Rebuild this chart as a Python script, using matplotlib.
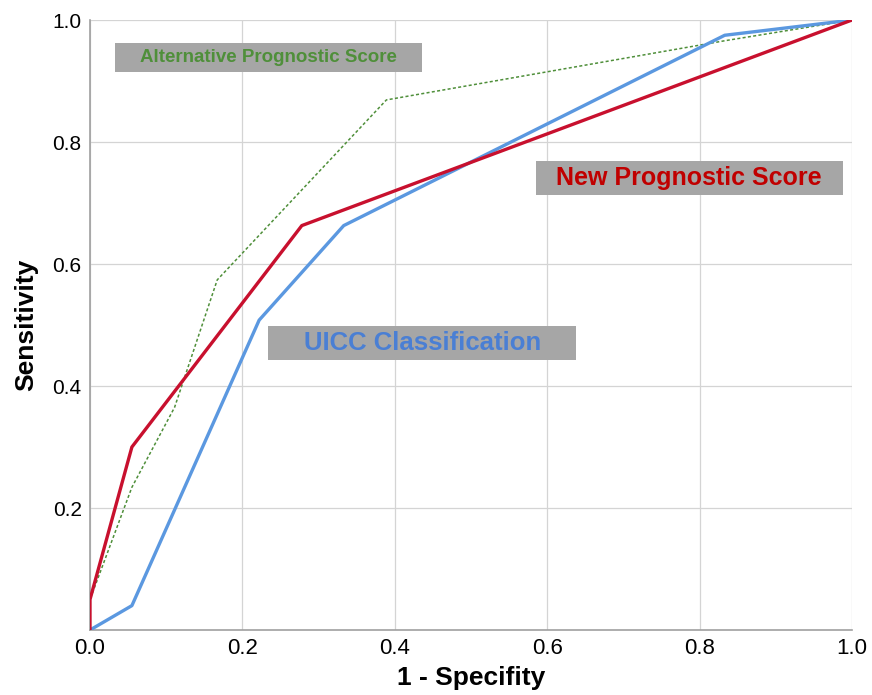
import matplotlib.pyplot as plt
from matplotlib.patches import Rectangle

# ROC curve points
new_fpr = [0.0, 0.0, 0.055, 0.278, 1.0]
new_tpr = [0.0, 0.05, 0.30, 0.663, 1.0]

uicc_fpr = [0.0, 0.055, 0.222, 0.333, 0.833, 1.0]
uicc_tpr = [0.0, 0.04, 0.508, 0.663, 0.975, 1.0]

alt_fpr = [0.0, 0.0, 0.055, 0.111, 0.167, 0.389, 0.833, 1.0]
alt_tpr = [0.0, 0.05, 0.234, 0.365, 0.574, 0.869, 0.966, 1.0]

ticks = [0.0, 0.2, 0.4, 0.6, 0.8, 1.0]

red = '#c8102e'
blue = '#5b98e0'
green = '#4f8f3a'
box_gray = '#a6a6a6'
narrow = ['Liberation Sans Narrow', 'Liberation Sans', 'DejaVu Sans']

fig = plt.figure(figsize=(8.72, 6.95), dpi=100)
ax = fig.add_axes([0.1032, 0.0935, 0.8738, 0.8777])

ax.plot(alt_fpr, alt_tpr, color=green, lw=1.1, ls=(0, (2, 1.5)), zorder=3)
ax.plot(uicc_fpr, uicc_tpr, color=blue, lw=2.4, zorder=4)
ax.plot(new_fpr, new_tpr, color=red, lw=2.4, zorder=5)

# label boxes
labels = [
    ('Alternative Prognostic Score', green, 13.5, (0.033, 0.915, 0.403, 0.047)),
    ('New Prognostic Score', '#c00000', 18, (0.585, 0.713, 0.403, 0.056)),
    ('UICC Classification', '#4a7fd4', 18.5, (0.234, 0.443, 0.404, 0.055)),
]
for text, col, size, (x0, y0, w, h) in labels:
    ax.add_patch(Rectangle((x0, y0), w, h, facecolor=box_gray, edgecolor='none', zorder=6))
    ax.text(x0 + w / 2, y0 + h / 2, text, color=col, fontsize=size, fontweight='bold',
            family='Liberation Sans', ha='center', va='center', zorder=7)

ax.set_xlim(0, 1)
ax.set_ylim(0, 1)
ax.set_xticks(ticks)
ax.set_yticks(ticks[1:])
ax.set_xticklabels([f'{t:.1f}' for t in ticks], family=narrow, fontsize=16)
ax.set_yticklabels([f'{t:.1f}' for t in ticks[1:]], family='Liberation Sans', fontsize=15)
ax.tick_params(length=0, pad=6)
ax.grid(True, color='#d4d4d4', lw=0.9)
ax.set_axisbelow(True)
for side in ['top', 'right']:
    ax.spines[side].set_visible(False)
for side in ['left', 'bottom']:
    ax.spines[side].set_color('#a0a0a0')
    ax.spines[side].set_linewidth(1.2)

ax.set_xlabel('1 - Specifity', family=narrow, fontsize=19, fontweight='bold', labelpad=5)
ax.set_ylabel('Sensitivity', family=narrow, fontsize=19, fontweight='bold', labelpad=10)

fig.savefig('out.png', dpi=100)
